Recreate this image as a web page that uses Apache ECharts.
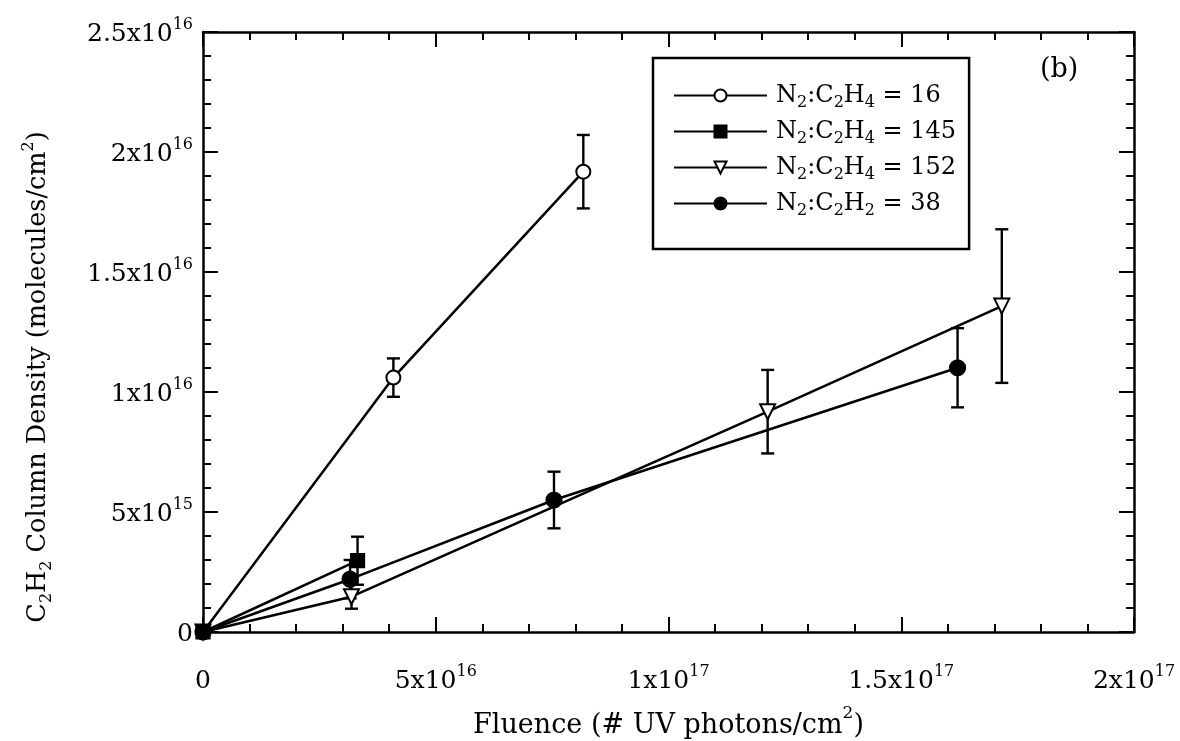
<!DOCTYPE html>
<html>
<head>
<meta charset="utf-8">
<script src="https://cdn.jsdelivr.net/npm/echarts@6/dist/echarts.min.js"></script>
<style>
  html, body { margin: 0; padding: 0; background: #fff; }
  #chart { width: 1180px; height: 741px; }
</style>
</head>
<body>
<div id="chart"></div>
<script>
// Fluence (# UV photons/cm^2), C2H2 column density (molecules/cm^2) and its error, per mixture
const mix16Fluence = [0, 4.09e16, 8.17e16];
const mix16Column = [0, 1.06e16, 1.918e16];
const mix16Error = [0, 0.08e16, 0.153e16];

const mix145Fluence = [0, 3.32e16];
const mix145Column = [0, 2.97e15];
const mix145Error = [0, 1.0e15];

const mix152Fluence = [0, 3.19e16, 1.213e17, 1.716e17];
const mix152Column = [0, 1.47e15, 9.18e15, 1.358e16];
const mix152Error = [0, 0.5e15, 1.74e15, 3.2e15];

const acetyleneFluence = [0, 3.16e16, 7.54e16, 1.621e17];
const acetyleneColumn = [0, 2.2e15, 5.5e15, 1.101e16];
const acetyleneError = [0, 0.8e15, 1.18e15, 1.65e15];

const seriesNames = ['N2:C2H4 = 16', 'N2:C2H4 = 145', 'N2:C2H4 = 152', 'N2:C2H2 = 38'];

const xTickLabels = ['0', '5x10^16', '1x10^17', '1.5x10^17', '2x10^17'];
const yTickLabels = ['0', '5x10^15', '1x10^16', '1.5x10^16', '2x10^16', '2.5x10^16'];

const FONT = 'DejaVu Serif';
const INK = '#000';

// "a^b" -> rich text with a superscript exponent
function tickRich(label) {
  const parts = label.split('^');
  return parts.length === 2 ? '{b|' + parts[0] + '}{p|' + parts[1] + '}' : '{b|' + label + '}';
}
// chemical formula -> rich text with subscript digits
function formulaRich(name) {
  const out = ['{g|}'];
  const re = /([A-Za-z])(\d)/g;
  let last = 0, m;
  while ((m = re.exec(name)) !== null) {
    out.push('{n|' + name.slice(last, m.index + 1) + '}');
    out.push('{s|' + m[2] + '}');
    last = m.index + 2;
  }
  out.push('{n|' + name.slice(last) + '}');
  return out.join('');
}

const tickRichStyles = {
  b: { fontFamily: FONT, fontSize: 25, color: INK, lineHeight: 30, verticalAlign: 'bottom' },
  p: { fontFamily: FONT, fontSize: 16, color: INK, lineHeight: 30, verticalAlign: 'top', padding: [0, 0, 12, 0] }
};

function pairs(xs, ys) { return xs.map((x, i) => [x, ys[i]]); }
function bars(xs, ys, es) {
  return xs.map((x, i) => [x, ys[i] - es[i], ys[i] + es[i]]).filter((d, i) => es[i] > 0);
}

function errorBarSeries(xs, ys, es) {
  return {
    type: 'custom',
    data: bars(xs, ys, es),
    encode: { x: 0, y: [1, 2] },
    z: 1,
    silent: true,
    renderItem(params, api) {
      const x = api.value(0);
      const lo = api.coord([x, api.value(1)]);
      const hi = api.coord([x, api.value(2)]);
      const hw = 6.5;
      const st = { stroke: INK, lineWidth: 2.4 };
      return {
        type: 'group',
        children: [
          { type: 'line', shape: { x1: lo[0], y1: lo[1], x2: hi[0], y2: hi[1] }, style: st },
          { type: 'line', shape: { x1: lo[0] - hw, y1: lo[1], x2: lo[0] + hw, y2: lo[1] }, style: st },
          { type: 'line', shape: { x1: hi[0] - hw, y1: hi[1], x2: hi[0] + hw, y2: hi[1] }, style: st }
        ]
      };
    }
  };
}

function lineSeries(name, xs, ys, symbol, size, rotate, z) {
  return {
    name: name,
    type: 'line',
    data: pairs(xs, ys),
    symbol: symbol,
    symbolSize: size,
    symbolRotate: rotate,
    showAllSymbol: true,
    z: z,
    color: INK,
    lineStyle: { color: INK, width: 2.5 },
    itemStyle: { color: INK, borderColor: INK, borderWidth: 2.2 },
    emphasis: { disabled: true }
  };
}

const axisLineStyle = { lineStyle: { color: INK, width: 2.5 } };
const tickStyle = { inside: true, length: 15, lineStyle: { color: INK, width: 2 } };
const minorStyle = { show: true, splitNumber: 5, length: 8, lineStyle: { color: INK, width: 2 } };

function valueAxis(extra) {
  return Object.assign({
    type: 'value',
    axisLine: Object.assign({ show: true, onZero: false }, axisLineStyle),
    axisTick: tickStyle,
    minorTick: minorStyle,
    splitLine: { show: false },
    minorSplitLine: { show: false }
  }, extra);
}

const chart = echarts.init(document.getElementById('chart'), null, { renderer: 'canvas' });

chart.setOption({
  backgroundColor: '#fff',
  animation: false,
  grid: { left: 203, right: 46, top: 32, bottom: 109, containLabel: false, outerBoundsMode: 'none' },
  xAxis: [
    valueAxis({
      position: 'bottom', min: 0, max: 2e17, interval: 5e16,
      axisLabel: {
        margin: 32,
        formatter: v => tickRich(xTickLabels[Math.round(v / 5e16)]),
        rich: tickRichStyles
      },
      name: '{n|Fluence (# UV photons/cm}{p|2}{n|)}',
      nameLocation: 'middle',
      nameGap: 73,
      nameTextStyle: {
        rich: {
          n: { fontFamily: FONT, fontSize: 27, color: INK, lineHeight: 34, verticalAlign: 'bottom' },
          p: { fontFamily: FONT, fontSize: 17, color: INK, lineHeight: 34, verticalAlign: 'top', padding: [0, 0, 12, 0] }
        }
      }
    }),
    valueAxis({
      position: 'top', min: 0, max: 2e17, interval: 5e16,
      axisLabel: { show: false }
    })
  ],
  yAxis: [
    valueAxis({
      position: 'left', min: 0, max: 2.5e16, interval: 5e15,
      axisLabel: {
        margin: 10,
        formatter: v => tickRich(yTickLabels[Math.round(v / 5e15)]),
        rich: tickRichStyles
      }
    }),
    valueAxis({
      position: 'right', min: 0, max: 2.5e16, interval: 5e15,
      axisLabel: { show: false }
    })
  ],
  legend: {
    orient: 'vertical',
    left: 653,
    top: 58,
    data: seriesNames,
    selectedMode: false,
    backgroundColor: '#fff',
    borderColor: INK,
    borderWidth: 2.5,
    borderRadius: 0,
    padding: [25, 13, 30, 20],
    itemWidth: 93,
    itemHeight: 15,
    itemGap: 8,
    formatter: name => formulaRich(name),
    textStyle: {
      rich: {
        g: { width: 4, lineHeight: 31 },
        n: { fontFamily: FONT, fontSize: 24, color: INK, lineHeight: 31, verticalAlign: 'middle' },
        s: { fontFamily: FONT, fontSize: 16, color: INK, lineHeight: 31, verticalAlign: 'bottom', padding: [12, 0, 0, 0] }
      }
    }
  },
  graphic: [
    {
      type: 'text',
      left: 1040,
      top: 56,
      style: { text: '(b)', font: '27px "' + FONT + '"', fill: INK }
    },
    {
      // vertical axis title, rotated a quarter turn
      type: 'text',
      x: 38,
      y: 377,
      rotation: Math.PI / 2,
      style: {
        text: '{n|C}{s|2}{n|H}{s|2}{n| Column Density (molecules/cm}{p|2}{n|)}',
        align: 'center',
        verticalAlign: 'middle',
        rich: {
          n: { fontFamily: FONT, fontSize: 25.5, fill: INK, lineHeight: 34, verticalAlign: 'middle' },
          s: { fontFamily: FONT, fontSize: 16, fill: INK, lineHeight: 34, verticalAlign: 'bottom', padding: [12, 0, 0, 0] },
          p: { fontFamily: FONT, fontSize: 16, fill: INK, lineHeight: 34, verticalAlign: 'top', padding: [0, 0, 12, 0] }
        }
      }
    }
  ],
  series: [
    errorBarSeries(mix16Fluence, mix16Column, mix16Error),
    errorBarSeries(mix145Fluence, mix145Column, mix145Error),
    errorBarSeries(mix152Fluence, mix152Column, mix152Error),
    errorBarSeries(acetyleneFluence, acetyleneColumn, acetyleneError),
    lineSeries(seriesNames[0], mix16Fluence, mix16Column, 'emptyCircle', 14, 0, 3),
    lineSeries(seriesNames[1], mix145Fluence, mix145Column, 'rect', 13, 0, 5),
    lineSeries(seriesNames[2], mix152Fluence, mix152Column, 'emptyTriangle', 15, 180, 3),
    lineSeries(seriesNames[3], acetyleneFluence, acetyleneColumn, 'circle', 15, 0, 4)
  ]
});
</script>
</body>
</html>
